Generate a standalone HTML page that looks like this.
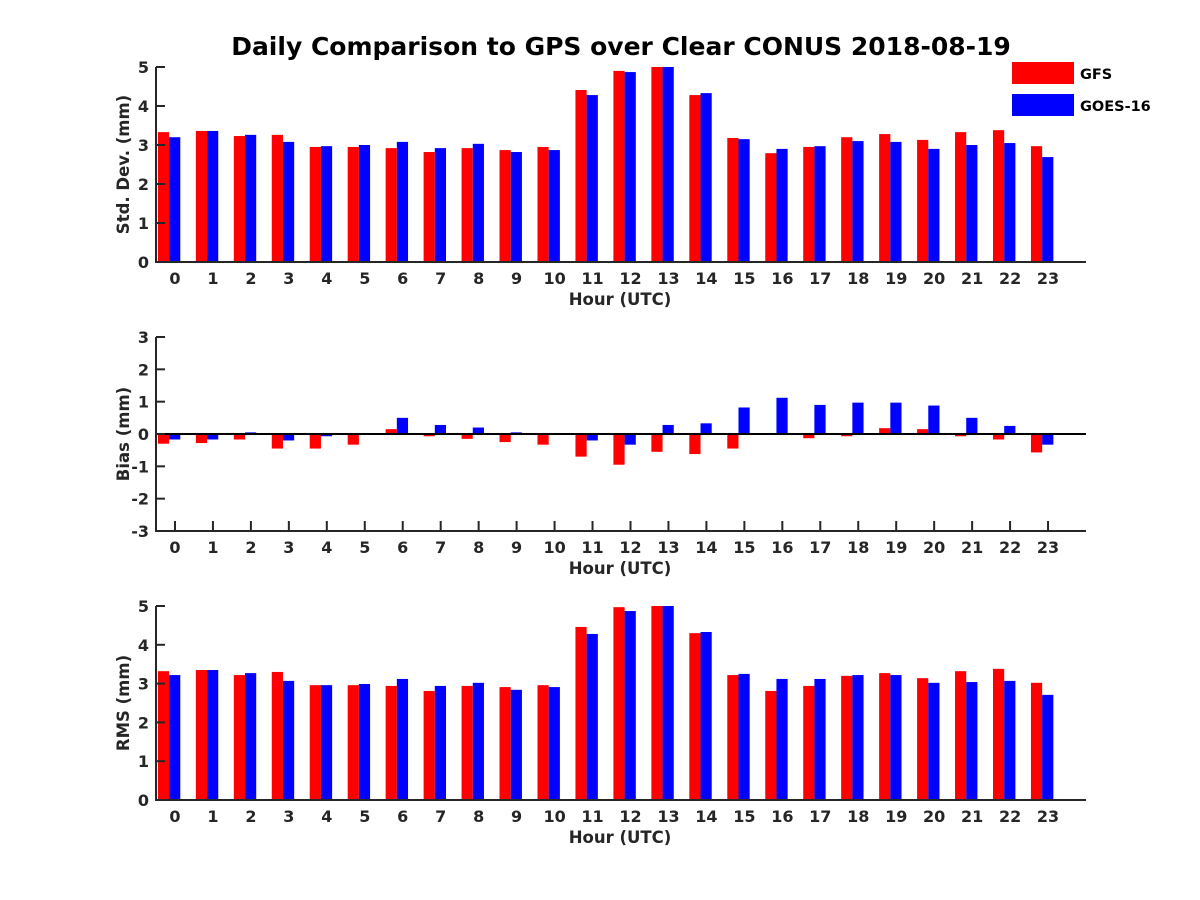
<!DOCTYPE html>
<html><head><meta charset="utf-8"><style>
body{margin:0;background:#fff}
svg{display:block;font-family:"DejaVu Sans","Liberation Sans",sans-serif;font-weight:bold}
</style></head><body>
<svg id="chart" width="1200" height="900">
<text x="621" y="55" text-anchor="middle" font-size="25" fill="#000">Daily Comparison to GPS over Clear CONUS 2018-08-19</text>
<g>
<rect x="1012" y="62" width="62" height="22" fill="#ff0000"/>
<text x="1080" y="79" font-size="14.5" fill="#000">GFS</text>
<rect x="1012" y="94" width="62" height="22" fill="#0000ff"/>
<text x="1080" y="111" font-size="14.5" fill="#000">GOES-16</text>
</g>
</svg>
<script>
const hours=[0,1,2,3,4,5,6,7,8,9,10,11,12,13,14,15,16,17,18,19,20,21,22,23];
const stdGFS=[3.33,3.36,3.23,3.26,2.95,2.95,2.92,2.82,2.92,2.87,2.95,4.41,4.9,5.0,4.28,3.18,2.79,2.95,3.2,3.28,3.13,3.33,3.38,2.97];
const stdGOES=[3.2,3.36,3.26,3.08,2.97,3.0,3.08,2.92,3.03,2.82,2.87,4.28,4.87,5.0,4.33,3.15,2.9,2.97,3.1,3.08,2.9,3.0,3.05,2.69];
const biasGFS=[-0.3,-0.28,-0.17,-0.45,-0.45,-0.33,0.15,-0.07,-0.15,-0.25,-0.33,-0.7,-0.95,-0.55,-0.62,-0.45,0,-0.13,-0.07,0.18,0.15,-0.07,-0.17,-0.57];
const biasGOES=[-0.17,-0.17,0.05,-0.2,-0.07,0,0.5,0.28,0.2,0.05,0,-0.2,-0.33,0.28,0.33,0.82,1.12,0.9,0.97,0.97,0.88,0.5,0.25,-0.33];
const rmsGFS=[3.32,3.35,3.22,3.3,2.96,2.96,2.94,2.81,2.94,2.91,2.96,4.46,4.97,5.0,4.3,3.22,2.81,2.94,3.2,3.27,3.14,3.32,3.38,3.02];
const rmsGOES=[3.22,3.35,3.27,3.07,2.96,2.99,3.12,2.94,3.02,2.84,2.91,4.28,4.87,5.0,4.33,3.25,3.12,3.12,3.22,3.22,3.02,3.04,3.07,2.71];
const stdTicks=[0,1,2,3,4,5];
const biasTicks=[-3,-2,-1,0,1,2,3];
const rmsTicks=[0,1,2,3,4,5];

const svg=document.getElementById('chart');
const NS='http://www.w3.org/2000/svg';
function mk(tag,attrs,parent){const e=document.createElementNS(NS,tag);for(const k in attrs)e.setAttribute(k,attrs[k]);(parent||svg).appendChild(e);return e;}
const X0=156,X1=1086,XMIN=-0.5,XMAX=24;
const xs=v=>X0+(v-XMIN)/(XMAX-XMIN)*(X1-X0);
const bw=0.295, mid=-0.155;

function panel(name,top,bot,ymin,ymax,ticks,gfs,goes,ylabel){
  const g=mk('g',{});
  
  
  const ys=v=>bot-(v-ymin)/(ymax-ymin)*(bot-top);
  const base=ys(Math.max(ymin,0));
  hours.forEach(h=>{
    const x=xs(h);
    mk('line',{x1:x,x2:x,y1:bot,y2:bot-10,stroke:'#262626','stroke-width':2},g);
    const tx=mk('text',{x:x,y:bot+22,'text-anchor':'middle','font-size':16,fill:'#262626'},g);
    tx.textContent=h;
    
  });
  hours.forEach((h,i)=>{
    [[gfs[i],'#ff0000',-1,'gfs'],[goes[i],'#0000ff',0,'goes16']].forEach(([v,c,s,n])=>{
      const xl=xs(h+mid+s*bw), xr=xs(h+mid+(s+1)*bw);
      const y=ys(v);
      const r=mk('rect',{x:xl,y:Math.min(y,base),width:xr-xl,height:Math.abs(base-y),fill:c},g);
      
      
    });
  });
  if(ymin<0){const z=mk('line',{x1:X0,x2:X1,y1:ys(0),y2:ys(0),stroke:'#000','stroke-width':2},g);
    }
  const ax=mk('path',{d:`M${X0},${top} L${X0},${bot} L${X1},${bot}`,fill:'none',stroke:'#262626','stroke-width':2},g);
  
  ticks.forEach(t=>{
    const y=ys(t);
    mk('line',{x1:X0,x2:X0+9,y1:y,y2:y,stroke:'#262626','stroke-width':2},g);
    const tx=mk('text',{x:X0-7,y:y+6,'text-anchor':'end','font-size':16,fill:'#262626'},g);
    tx.textContent=t;
    
  });
  const xt=mk('text',{x:620,y:bot+43,'text-anchor':'middle','font-size':16.5,fill:'#262626'},g);
  xt.textContent='Hour (UTC)';
  
  const cy=(top+bot)/2;
  const yt=mk('text',{x:0,y:0,'text-anchor':'middle','font-size':16.5,fill:'#262626',transform:`translate(129,${cy}) rotate(-90)`},g);
  yt.textContent=ylabel;
  
}
panel('std-dev',67,262,0,5,stdTicks,stdGFS,stdGOES,'Std. Dev. (mm)');
panel('bias',337,531,-3,3,biasTicks,biasGFS,biasGOES,'Bias (mm)');
panel('rms',606,800,0,5,rmsTicks,rmsGFS,rmsGOES,'RMS (mm)');
</script>
</body></html>
